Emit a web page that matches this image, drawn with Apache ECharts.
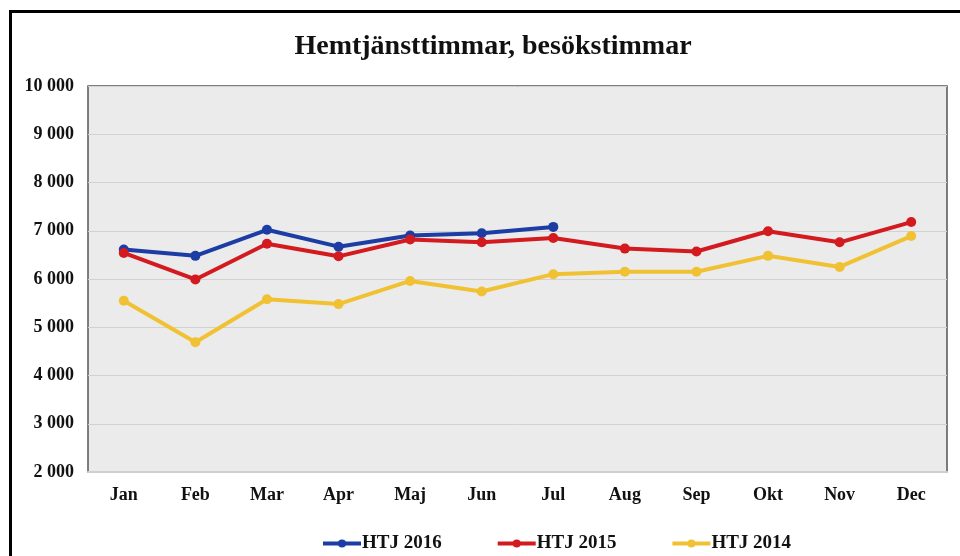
<!DOCTYPE html>
<html>
<head>
<meta charset="utf-8">
<script src="https://cdn.jsdelivr.net/npm/echarts@6/dist/echarts.min.js"></script>
<style>
  html, body { margin: 0; padding: 0; background: #ffffff; }
  #chart { width: 960px; height: 556px; }
</style>
</head>
<body>
<div id="chart"></div>
<script>
// Månader och besökstimmar per år
const months = ['Jan', 'Feb', 'Mar', 'Apr', 'Maj', 'Jun', 'Jul', 'Aug', 'Sep', 'Okt', 'Nov', 'Dec'];
const htj2016 = [6610, 6480, 7020, 6670, 6900, 6950, 7080];
const htj2015 = [6540, 5990, 6730, 6470, 6820, 6760, 6850, 6630, 6570, 6990, 6760, 7180];
const htj2014 = [5550, 4690, 5580, 5480, 5960, 5740, 6100, 6150, 6150, 6480, 6250, 6890];
const yTicks = [2000, 3000, 4000, 5000, 6000, 7000, 8000, 9000, 10000];

const serif = '"Liberation Serif", "Times New Roman", serif';

function fmt(v) {
  return String(v).replace(/\B(?=(\d{3})+(?!\d))/g, ' ');
}

function lineSeries(name, data, color) {
  return {
    name: name,
    type: 'line',
    data: data,
    symbol: 'circle',
    symbolSize: 10,
    lineStyle: { color: color, width: 4 },
    itemStyle: { color: color },
    z: 3
  };
}

const chart = echarts.init(document.getElementById('chart'), null, { renderer: 'canvas' });
chart.setOption({
  backgroundColor: '#ffffff',
  animation: false,
  graphic: [{
    type: 'rect',
    shape: { x: 10.5, y: 11.5, width: 1000, height: 600 },
    style: { fill: 'none', stroke: '#000000', lineWidth: 3 },
    silent: true,
    z: 10
  }],
  title: {
    text: 'Hemtjänsttimmar, besökstimmar',
    left: 488,
    textAlign: 'center',
    top: 28,
    textStyle: { fontFamily: serif, fontWeight: 'bold', fontSize: 28, color: '#111111' }
  },
  grid: {
    left: 88, right: 13, top: 86, bottom: 84,
    show: true,
    backgroundColor: '#ebebeb',
    borderColor: '#555555',
    borderWidth: 1.5
  },
  legend: {
    top: 529,
    left: 316,
    itemWidth: 38,
    itemHeight: 10,
    itemGap: 54,
    lineStyle: { width: 4 },
    textStyle: { fontFamily: serif, fontWeight: 'bold', fontSize: 19, color: '#111111', padding: [0, 0, 0, -4] },
    data: ['HTJ 2016', 'HTJ 2015', 'HTJ 2014']
  },
  xAxis: {
    type: 'category',
    data: months,
    boundaryGap: true,
    axisLine: { lineStyle: { color: '#cfcfcf', width: 2 } },
    axisTick: { show: false },
    axisLabel: { fontFamily: serif, fontWeight: 'bold', fontSize: 18, color: '#111111', margin: 14 }
  },
  yAxis: {
    type: 'value',
    min: yTicks[0],
    max: yTicks[yTicks.length - 1],
    interval: 1000,
    axisLine: { show: false },
    axisTick: { show: false },
    splitLine: { lineStyle: { color: '#d2d2d2', width: 1 } },
    axisLabel: {
      fontFamily: serif, fontWeight: 'bold', fontSize: 18, color: '#111111', margin: 14,
      formatter: fmt
    }
  },
  series: [
    lineSeries('HTJ 2016', htj2016, '#1c3da3'),
    lineSeries('HTJ 2015', htj2015, '#d21a1f'),
    lineSeries('HTJ 2014', htj2014, '#f0c233')
  ]
});
</script>
</body>
</html>
